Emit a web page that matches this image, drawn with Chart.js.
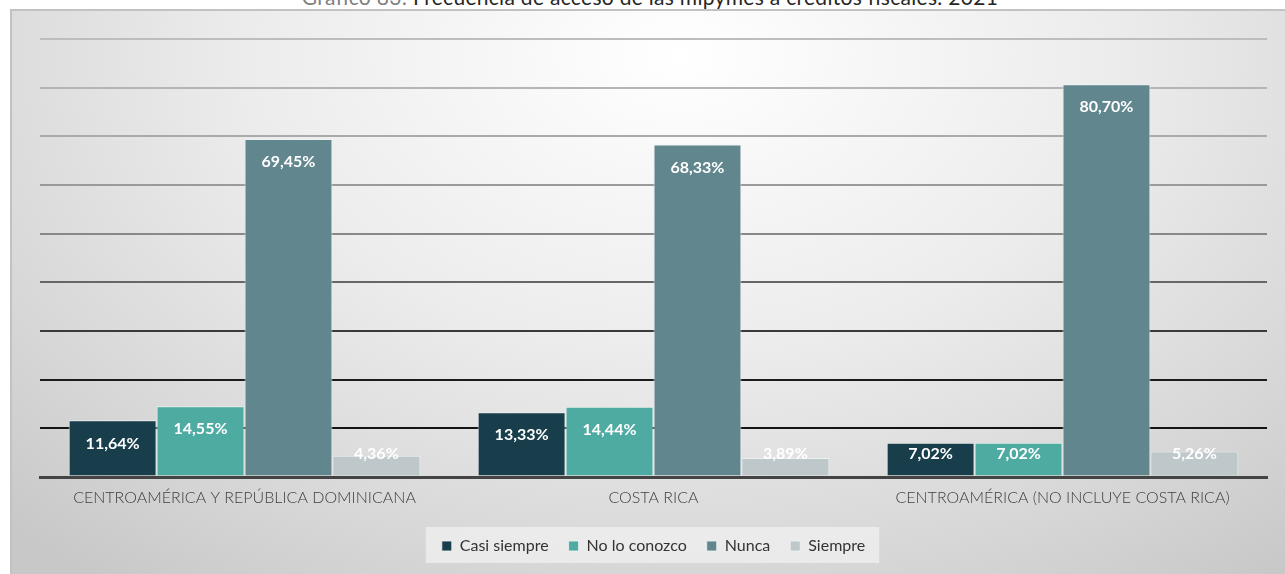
<!DOCTYPE html>
<html>
<head>
<meta charset="utf-8">
<script src="https://cdn.jsdelivr.net/npm/chart.js@4.4.0/dist/chart.umd.min.js"></script>
<style>
  html, body { margin: 0; padding: 0; background: #fff; overflow: hidden; }
  #wrap { position: relative; width: 1285px; height: 574px; }
  #panel {
    position: absolute; left: 10px; top: 9px; width: 1285px; height: 570px;
    border-top: 2px solid #c2c2c2; border-left: 2px solid #c2c2c2;
    background: radial-gradient(ellipse 75% 115% at 52% 8%, #ffffff 0%, #ececec 45%, #d6d6d6 80%, #c8c8c8 100%);
  }
  #title {
    position: absolute; left: 0; width: 1300px; top: -14px; text-align: center;
    font-family: Lato, sans-serif; font-size: 21px; letter-spacing: 0.3px; line-height: 1; color: #262626;
    white-space: nowrap;
  }
  #title span { color: #808080; }
  canvas { position: absolute; left: 0; top: 0; }
</style>
</head>
<body>
<div id="wrap">
  <div id="panel"></div>
  <div id="title"><span>Gráfico 83:</span> Frecuencia de acceso de las mipymes a créditos fiscales. 2021</div>
  <canvas id="c" width="1285" height="574"></canvas>
</div>
<script>
// --- data ---
const categories = ['CENTROAMÉRICA Y REPÚBLICA DOMINICANA', 'COSTA RICA', 'CENTROAMÉRICA (NO INCLUYE COSTA RICA)'];
const casiSiempre = [11.64, 13.33, 7.02];
const noLoConozco = [14.55, 14.44, 7.02];
const nunca       = [69.45, 68.33, 80.70];
const siempre     = [4.36, 3.89, 5.26];
const seriesNames = ['Casi siempre', 'No lo conozco', 'Nunca', 'Siempre'];
const seriesColors = ['#173e4a', '#4eaba1', '#62868e', '#bec7ca'];

// gridline shade gets darker toward the baseline
const gridShades = { 90: '#bdbdbd', 80: '#b5b5b5', 70: '#aaaaaa', 60: '#9a9a9a', 50: '#888888',
                     40: '#666666', 30: '#3a3a3a', 20: '#1c1c1c', 10: '#141414', 0: '#444444' };

const fmt = v => v.toFixed(2).replace('.', ',') + '%';

// data labels, inside end, pushed up for short bars
const barLabels = {
    id: 'barLabels',
    afterDatasetsDraw(chart) {
        const ctx = chart.ctx;
        ctx.save();
        ctx.font = 'bold 16px Lato, sans-serif';
        ctx.fillStyle = '#ffffff';
        ctx.textAlign = 'center';
        ctx.textBaseline = 'middle';
        chart.data.datasets.forEach((ds, i) => {
            chart.getDatasetMeta(i).data.forEach((bar, j) => {
                const y = Math.min(bar.y + 23, bar.base - 22);
                ctx.fillText(fmt(ds.data[j]), bar.x, y);
            });
        });
        ctx.restore();
    }
};

// light box behind the legend
const legendBox = {
    id: 'legendBox',
    beforeDraw(chart) {
        const boxes = chart.legend && chart.legend.legendHitBoxes;
        if (!boxes || !boxes.length) return;
        const left = Math.min(...boxes.map(b => b.left)) - 16;
        const right = Math.max(...boxes.map(b => b.left + b.width)) + 14;
        const top = boxes[0].top - 11;
        const ctx = chart.ctx;
        ctx.save();
        ctx.fillStyle = 'rgba(240,240,240,0.75)';
        ctx.fillRect(left, top, right - left, 36);
        ctx.restore();
    }
};

new Chart(document.getElementById('c'), {
    type: 'bar',
    data: {
        labels: categories,
        datasets: [casiSiempre, noLoConozco, nunca, siempre].map((d, i) => ({
            label: seriesNames[i],
            data: d,
            backgroundColor: seriesColors[i],
            borderColor: 'rgba(235,242,242,0.85)',
            borderWidth: 1,
            categoryPercentage: 0.86,
            barPercentage: 1
        }))
    },
    options: {
        responsive: false,
        animation: false,
        layout: { padding: { left: 40, right: 18, top: 39, bottom: 10 } },
        plugins: {
            legend: {
                position: 'bottom',
                labels: {
                    boxWidth: 10, boxHeight: 10, padding: 20,
                    color: '#333333',
                    font: { family: 'Lato, sans-serif', size: 16 }
                }
            },
            tooltip: { enabled: false }
        },
        scales: {
            y: {
                min: 0, max: 90,
                ticks: { display: false, stepSize: 10 },
                border: { display: false },
                grid: {
                    drawTicks: false,
                    color: c => gridShades[c.tick.value] || '#999',
                    lineWidth: c => c.tick.value === 0 ? 3 : 2
                },
                afterFit: s => { s.width = 0; }
            },
            x: {
                grid: { display: false, drawTicks: false },
                border: { color: '#444444', width: 3 },
                ticks: {
                    color: '#404040', padding: 11,
                    font: { family: 'Lato, sans-serif', size: 16, weight: 300 }
                },
                afterFit: s => { s.height = 41; }
            }
        }
    },
    plugins: [legendBox, barLabels]
});
</script>
</body>
</html>
